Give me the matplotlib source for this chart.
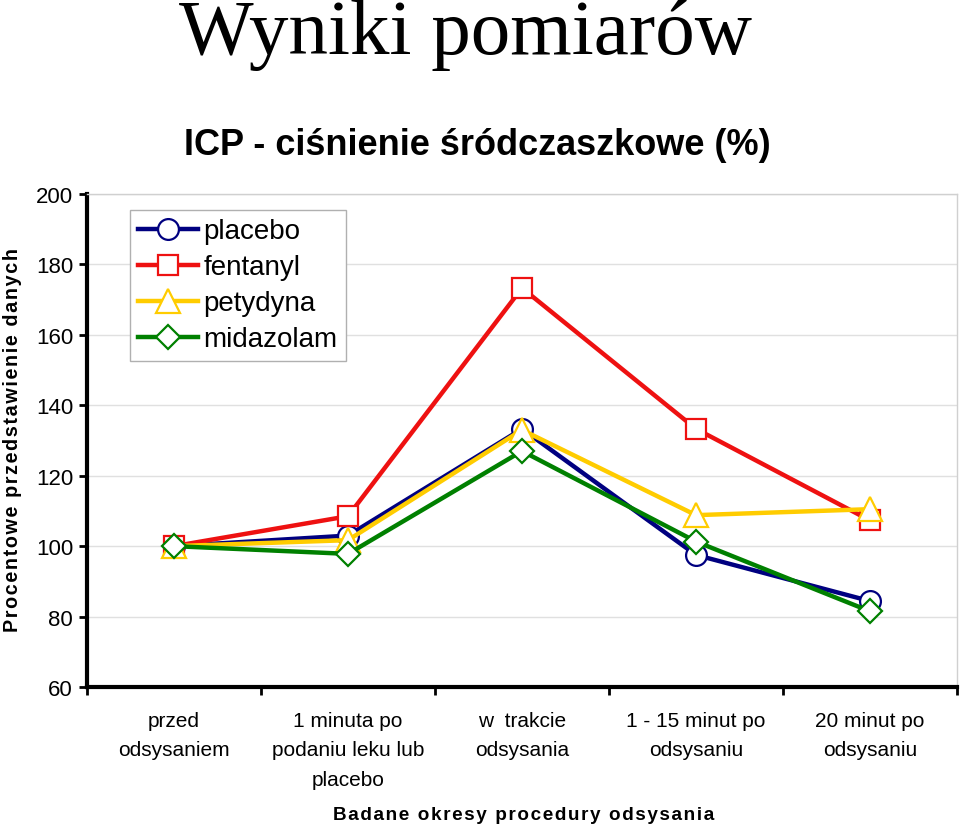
import matplotlib
matplotlib.use("Agg")
import matplotlib.pyplot as plt

categories = ["przed\nodsysaniem", "1 minuta po\npodaniu leku lub\nplacebo", "w  trakcie\nodsysania",
              "1 - 15 minut po\nodsysaniu", "20 minut po\nodsysaniu"]
placebo = [100, 103, 133.3, 97.5, 84.4]
fentanyl = [100, 108.5, 173.3, 133.3, 107.3]
petydyna = [100, 101.7, 133, 108.8, 110.5]
midazolam = [100, 97.8, 127, 101.3, 81.5]

series = [
    ("placebo", placebo, "#000080", "o", 15),
    ("fentanyl", fentanyl, "#EE1111", "s", 14.5),
    ("petydyna", petydyna, "#FFCC00", "^", 17),
    ("midazolam", midazolam, "#008000", "D", 12),
]

def spaced(s):
    return "\u200a".join(s)

plt.rcParams['font.family'] = ['Liberation Sans', 'DejaVu Sans']
fig = plt.figure(figsize=(9.6, 8.28), dpi=100)
ax = fig.add_axes([87/960, 1-688/828, 870/960, 493/828])

x = list(range(len(categories)))
for name, vals, col, mk, ms in series:
    ax.plot(x, vals, color=col, lw=3.2, marker=mk, ms=ms, mfc="white", mec=col, mew=1.6, label=name)

ax.set_xlim(-0.5, 4.5)
ax.set_ylim(60, 200)
ax.set_yticks(range(60, 201, 20))
ax.tick_params(axis='y', labelsize=16, length=6, width=2, direction='out', pad=4)
ax.set_xticks([i - 0.5 for i in range(6)])
ax.set_xticklabels([])
ax.set_xticks(x, minor=True)
ax.set_xticklabels(categories, minor=True, fontsize=15, linespacing=1.72, va='top')
ax.tick_params(axis='x', which='major', length=6, width=2, direction='out')
ax.tick_params(axis='x', which='minor', length=0, pad=17)
ax.grid(axis='y', color='#e0e0e0', lw=1)
ax.set_axisbelow(True)
for s in ['left', 'bottom']:
    ax.spines[s].set_linewidth(3)
    ax.spines[s].set_color('black')
for s in ['top', 'right']:
    ax.spines[s].set_linewidth(1)
    ax.spines[s].set_color('#d0d0d0')

leg = ax.legend(loc='upper left', bbox_to_anchor=(0.049, 0.9675), fontsize=20, frameon=True,
                fancybox=False, framealpha=1, edgecolor='#b0b0b0', handlelength=2.15,
                handletextpad=0.2, labelspacing=0.36, borderpad=0.3, borderaxespad=0)
leg.get_frame().set_linewidth(1)

fig.text(0.485, 0.958, "Wyniki pomiarów", family='Liberation Serif', fontsize=57, ha='center', va='center')
fig.text(0.497, 0.824, "ICP - ciśnienie śródczaszkowe (%)", fontsize=26, fontweight='bold', ha='center', va='center')
fig.text(0.013, 0.469, spaced("Procentowe przedstawienie danych"), fontsize=14.2, fontweight='bold', rotation=90,
         ha='center', va='center')
fig.text(0.545, 0.015, spaced("Badane okresy procedury odsysania"), fontsize=13.6, fontweight='bold', ha='center', va='center')

fig.savefig("out.png", dpi=100)
